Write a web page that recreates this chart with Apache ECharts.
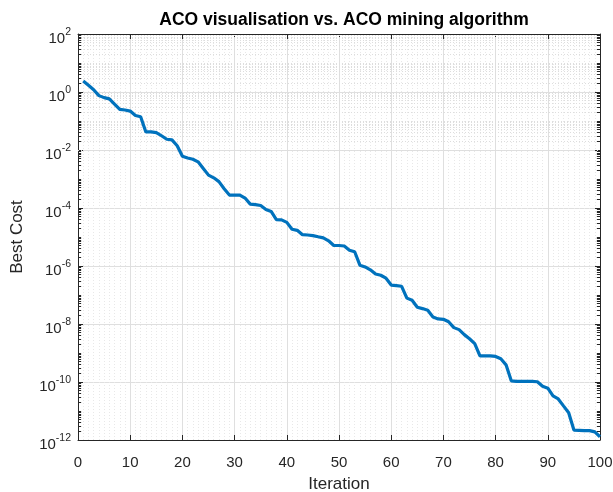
<!DOCTYPE html>
<html>
<head>
<meta charset="utf-8">
<script src="https://cdn.jsdelivr.net/npm/echarts@6/dist/echarts.min.js"></script>
<style>
html,body{margin:0;padding:0;background:#fff;}
#chart{width:613px;height:492px;}
</style>
</head>
<body>
<div id="chart"></div>
<script>
// ---- data ----
var titleText = 'ACO visualisation vs. ACO mining algorithm';
var xName = 'Iteration';
var yName = 'Best Cost';
var iterations = [];
for (var i = 1; i <= 100; i++) iterations.push(i);
var bestCost = [
  2.4, 1.7, 1.2, 0.75, 0.64, 0.58, 0.38, 0.25, 0.24, 0.22,
  0.155, 0.14, 0.042, 0.042, 0.04, 0.031, 0.0235, 0.0224, 0.014, 0.0061,
  0.0053, 0.0048, 0.0039, 0.0023, 0.00136, 0.0011, 0.00081, 0.00046, 0.00028, 0.00028,
  0.00028, 0.00022, 0.000136, 0.00013, 0.000122, 8.9e-5, 7.6e-5, 4.0e-5, 3.9e-5, 3.2e-5,
  1.85e-5, 1.7e-5, 1.2e-5, 1.17e-5, 1.12e-5, 1.02e-5, 9.3e-6, 7.4e-6, 5.1e-6, 5.1e-6,
  4.9e-6, 3.5e-6, 3.1e-6, 1.07e-6, 9.3e-7, 7.4e-7, 5.3e-7, 4.8e-7, 3.8e-7, 2.2e-7,
  2.1e-7, 2.0e-7, 7.8e-8, 6.6e-8, 3.8e-8, 3.4e-8, 3.0e-8, 1.75e-8, 1.5e-8, 1.45e-8,
  1.2e-8, 7.5e-9, 6.4e-9, 4.3e-9, 3.1e-9, 2.1e-9, 8.0e-10, 8.0e-10, 8.0e-10, 7.6e-10,
  6.3e-10, 3.9e-10, 1.1e-10, 1.05e-10, 1.05e-10, 1.05e-10, 1.05e-10, 1.02e-10, 7.1e-11, 6.1e-11,
  3.3e-11, 2.6e-11, 1.5e-11, 8.7e-12, 2.2e-12, 2.15e-12, 2.1e-12, 2.1e-12, 1.9e-12, 1.3e-12
];
var xTicks = [0, 10, 20, 30, 40, 50, 60, 70, 80, 90, 100];
var yExpMin = -12, yExpMax = 2;

// ---- build ----
var seriesData = iterations.map(function (x, i) { return [x, bestCost[i]]; });

// minor log grid values (2..9 x 10^k and odd decades)
var minorVals = [];
for (var k = yExpMin; k < yExpMax; k++) {
  if (Math.abs(k) % 2 === 1) minorVals.push(Math.pow(10, k));
  for (var m = 2; m <= 9; m++) minorVals.push(m * Math.pow(10, k));
}
var xMin = xTicks[0], xMax = xTicks[xTicks.length - 1];
var minorGrid = minorVals.map(function (v) { return { yAxis: v }; });
var minorTicksSeg = [];
minorVals.forEach(function (v) {
  minorTicksSeg.push([{ coord: [xMin, v] }, { coord: [xMin + 0.6, v] }]);
  minorTicksSeg.push([{ coord: [xMax - 0.6, v] }, { coord: [xMax, v] }]);
});

var FONT = 'Liberation Sans, Arial, Helvetica, sans-serif';
var AX = '#262626';

function yLabel(v) {
  var e = Math.round(Math.log10(v));
  return '{b|10}{s|' + e + '}';
}

var chart = echarts.init(document.getElementById('chart'), null, { renderer: 'canvas' });
chart.setOption({
  animation: false,
  backgroundColor: '#ffffff',
  title: {
    text: titleText,
    left: 339,
    top: 6,
    textAlign: 'center',
    textStyle: { fontFamily: FONT, fontSize: 17.5, fontWeight: 'bold', color: '#000' }
  },
  grid: { left: 78, right: 13, top: 34, bottom: 52, containLabel: false, outerBoundsMode: 'none' },
  xAxis: [{
    type: 'value', min: xMin, max: xMax, interval: 10,
    name: xName, nameLocation: 'middle', nameGap: 36,
    nameTextStyle: { fontFamily: FONT, fontSize: 17, color: AX },
    axisLine: { show: true, onZero: false, lineStyle: { color: AX, width: 1 } },
    axisTick: { show: true, inside: true, length: 5, lineStyle: { color: AX } },
    axisLabel: { fontFamily: FONT, fontSize: 15, color: AX, margin: 15 },
    splitLine: { show: true, lineStyle: { color: '#dfdfdf', width: 1 } },
    minorTick: { show: false, splitNumber: 10 },
    minorSplitLine: { show: true, lineStyle: { color: '#e8e8e8', width: 1, type: [1, 2] } }
  }, {
    type: 'value', min: xMin, max: xMax, interval: 10, position: 'top',
    axisLine: { show: true, onZero: false, lineStyle: { color: AX, width: 1 } },
    axisTick: { show: true, inside: true, length: 5, lineStyle: { color: AX } },
    axisLabel: { show: false },
    splitLine: { show: false }
  }],
  yAxis: [{
    type: 'log', logBase: 10, min: Math.pow(10, yExpMin), max: Math.pow(10, yExpMax), interval: 2,
    name: yName, nameLocation: 'middle', nameGap: 52, nameRotate: 90,
    nameTextStyle: { fontFamily: FONT, fontSize: 17, color: AX },
    axisLine: { show: true, onZero: false, lineStyle: { color: AX, width: 1 } },
    axisTick: { show: true, inside: true, length: 5, lineStyle: { color: AX } },
    axisLabel: {
      margin: 7, formatter: yLabel,
      rich: {
        b: { fontFamily: FONT, fontSize: 15, color: AX, padding: [10, 0, 0, 0] },
        s: { fontFamily: FONT, fontSize: 10.5, color: AX, padding: [0, 0, 4, 0] }
      }
    },
    splitLine: { show: true, lineStyle: { color: '#dfdfdf', width: 1 } }
  }, {
    type: 'log', logBase: 10, min: Math.pow(10, yExpMin), max: Math.pow(10, yExpMax), interval: 2,
    position: 'right',
    axisLine: { show: true, onZero: false, lineStyle: { color: AX, width: 1 } },
    axisTick: { show: true, inside: true, length: 5, lineStyle: { color: AX } },
    axisLabel: { show: false },
    splitLine: { show: false }
  }],
  series: [{
    name: 'minorGrid', type: 'line', data: [], z: 1, silent: true,
    markLine: {
      z: 1, silent: true, symbol: ['none', 'none'], label: { show: false },
      lineStyle: { color: '#dddddd', width: 1, type: [1, 2] },
      emphasis: { disabled: true },
      data: minorGrid
    }
  }, {
    name: 'minorTicks', type: 'line', data: [], z: 1, silent: true,
    markLine: {
      z: 6, silent: true, symbol: ['none', 'none'], label: { show: false },
      lineStyle: { color: AX, width: 1, type: 'solid' },
      emphasis: { disabled: true },
      data: minorTicksSeg
    }
  }, {
    name: 'Best Cost', type: 'line', data: seriesData, z: 3,
    showSymbol: false, symbol: 'none',
    lineStyle: { color: '#0072BD', width: 3.2 },
    itemStyle: { color: '#0072BD' }
  }]
});
</script>
</body>
</html>
